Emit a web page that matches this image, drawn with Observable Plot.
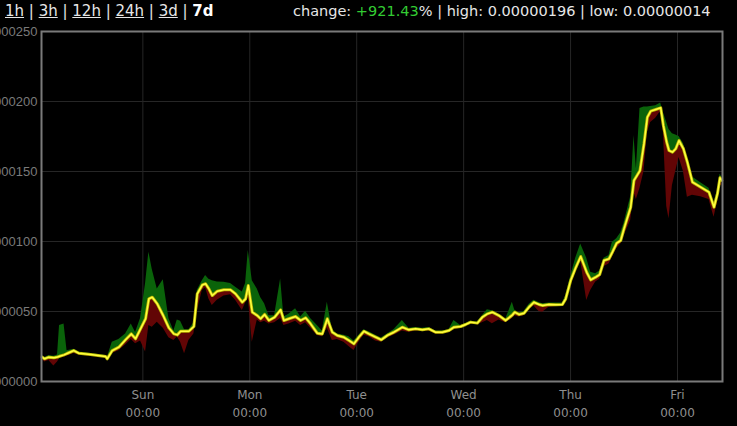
<!DOCTYPE html>
<html><head><meta charset="utf-8">
<script src="https://cdn.jsdelivr.net/npm/d3@7"></script>
<script src="https://cdn.jsdelivr.net/npm/@observablehq/plot@0.6"></script>
<style>
html,body{margin:0;padding:0;background:#000;width:737px;height:426px;overflow:hidden;}
#header{position:relative;height:24px;font-family:"DejaVu Sans",sans-serif;color:#e6e6e6;white-space:nowrap;}
#periods{position:absolute;left:5px;top:2px;font-size:15px;}
#periods a{color:#e6e6e6;text-decoration:underline;}
#periods b{color:#fff;}
#stats{position:absolute;left:293px;top:3px;font-size:14.5px;}
.up{color:#33cc33;}
#chart svg{display:block;}
</style></head><body>
<div id="header"><span id="periods"></span><span id="stats"></span></div>
<div id="chart"></div>
<script>
// time periods in header
const periods = ["1h", "3h", "12h", "24h", "3d", "7d"];
const selectedPeriod = "7d";
const changePct = "+921.43";
const highLabel = "0.00000196";
const lowLabel = "0.00000014";

// hours relative to Sunday 00:00 (UTC)
const hours = [-22.59,-22.07,-21.10,-19.98,-19.15,-18.70,-17.69,-17.02,-15.49,-14.37,-11.74,-8.37,-7.99,-6.87,-5.39,-3.88,-2.60,-1.64,-0.52,0.61,1.35,2.11,3.23,4.58,5.84,6.96,7.72,8.46,9.36,10.33,11.45,12.21,13.34,14.08,14.82,15.58,16.70,18.19,19.69,20.81,22.32,23.06,23.66,24.56,25.68,26.43,27.32,28.29,29.57,30.92,31.66,32.78,34.28,35.41,36.53,37.65,39.15,40.28,41.40,42.52,43.64,45.13,46.25,47.37,48.49,49.62,50.74,52.24,53.52,54.87,56.35,58.24,59.72,61.22,62.73,64.21,65.71,67.22,68.70,69.82,71.33,72.45,73.57,75.08,76.20,77.32,78.44,79.93,81.43,82.93,83.45,84.42,85.54,86.66,87.78,88.91,89.74,91.15,92.66,94.16,94.90,96.02,97.15,98.27,99.62,100.51,101.64,102.53,103.50,104.62,105.39,106.35,107.25,107.99,109.49,110.23,110.77,111.58,112.48,113.24,113.98,115.11,116.23,116.83,117.58,118.09,118.86,119.60,120.34,121.33,122.22,123.35,125.21,127.07,128.20,128.96,129.54,129.93];
// prices in units of 0.00000001
const close = [17.4,16.2,17.4,16.9,17.5,18,19,20,22.1,20.2,19.3,17.9,16.2,22.1,24.5,29.8,34,30.5,37.6,44.8,59.1,60.2,55.5,47,38.3,34,33.3,35.9,35.9,35.9,39.3,62.6,69,69.8,66.2,61.4,64.5,65.5,65.5,62.6,56.6,59,68.6,49.5,47.1,44.8,47.9,43.6,45.9,51.2,43.6,44.8,46.4,43.6,45.5,41.2,34.5,34,44.8,35.2,32.9,31.6,29.3,26.9,31.7,35.9,34,31.7,29.8,32.9,35.2,38.8,36.9,37.6,36.9,37.6,35.2,35.2,36.4,38.8,39.3,40.7,42.4,41.7,45.9,48.3,49.5,47.1,43.6,47.5,49.5,47.9,48.8,53.1,56.6,55,54.3,55,54.8,55,59,72.1,81.2,89.3,78,72.6,74.5,76.4,86.4,87.6,92.4,98.8,100.7,109,124.5,143.6,146.4,150.7,169.8,188.8,193.1,194.3,195.5,182.9,170.9,165,163.8,166.2,172.1,166.2,156.6,142.4,138.8,135.2,124.5,134,145.5,143.6];
const high = [18.5,17,18.5,18,19,40,41,22,23,21,20,18.5,17,28,30,34,41,35,45,70,92.4,80,66,72.6,45,36,44,43,37,37,42,65,72,75.7,73,72,71,70.9,70,67.4,64,70,93.6,72,66,60,55.5,47,47,73.3,46,48,51.9,46,50.2,45,40,36,56.6,37,34,33,32,29,33,37,35.5,33,31,34,37,43.6,38,38.5,38,38.5,36,36,37,43.6,40,41.5,43,42.5,47,51.2,50.5,48,44.5,56.6,51,49,50,55,58,56.5,55.5,56,56,56,61,75,88,98.3,88,78,77,79,88,90,99.5,102,106,113,132,175.7,152,195,196,196,196.5,197,199,192,185,180,177,176,175,170,160,146,142,138,128,136,148,146];
const low = [16,14,15,11,14,16.5,17.5,18,20,19,18,17,15.5,20,22,26,30,27,29,21,40,38.8,42.4,38,31.2,29.3,31.7,28,19.8,29.3,34,50,65,67,59,54.3,58,61,62,58,50.7,56,60,28,44,42,43,41,42,45,40,41,43,40,42,38,32.9,32,38,29.3,30,28,25,22.1,28,33,32,29,28,31,33,36,35,36,36,36,34,34,35,37,38,39.5,41,40.5,42,43.6,41.2,44,42,45,47,46,47,51,54,50,49.5,53,53.5,54,57,68,78,86,57.9,65,71,73,82,84,89,95,98,104,115,135,130,138,150,178,185,188,193,178,125,116.2,140,150,160,150,131.6,133,132,130,117.4,128,140,140];

// axis ticks
const yTicks = [0, 50, 100, 150, 200, 250];
const dayLabels = ["Sun", "Mon", "Tue", "Wed", "Thu", "Fri"];
const timeLabel = "00:00";
const domainHours = [-22.75, 130.1];

const base = Date.UTC(2021, 0, 3); // a Sunday
const toDate = h => new Date(base + h * 3600e3);
const data = hours.map((h, i) => ({t: toDate(h), close: close[i], high: high[i], low: low[i]}));
const days = dayLabels.map((d, i) => ({t: toDate(i * 24), label: d + "\n" + timeLabel}));

// header
const per = document.getElementById("periods");
per.innerHTML = periods.map(p => p === selectedPeriod ? `<b>${p}</b>` : `<a>${p}</a>`).join(" | ");
document.getElementById("stats").innerHTML =
  `change: <span class="up">${changePct}</span>% | high: ${highLabel} | low: ${lowLabel}`;

const chart = Plot.plot({
  width: 737,
  height: 402,
  marginTop: 7,
  marginBottom: 45,
  marginLeft: 41,
  marginRight: 15,
  style: {background: "#000", color: "#888", fontFamily: "Liberation Sans, sans-serif"},
  x: {type: "utc", domain: domainHours.map(toDate), axis: null},
  y: {domain: [0, 250], axis: null},
  marks: [
    Plot.ruleY(yTicks, {stroke: "#262626", strokeWidth: 1}),
    Plot.ruleX(days, {x: "t", stroke: "#262626", strokeWidth: 1}),
    Plot.areaY(data, {x: "t", y1: "close", y2: "high", fill: "#0a630a"}),
    Plot.areaY(data, {x: "t", y1: "low", y2: "close", fill: "#620505"}),
    Plot.lineY(data, {x: "t", y: "close", stroke: "#b8b400", strokeWidth: 3}),
    Plot.lineY(data, {x: "t", y: "close", stroke: "#ffff40", strokeWidth: 1.5}),
    Plot.frame({stroke: "#7a7a7a", strokeWidth: 2}),
    Plot.text(yTicks, {y: d => d, frameAnchor: "left", dx: -4, textAnchor: "end",
      text: d => (d * 1e-8).toFixed(8), fill: "#7a7a7a", fontSize: 13}),
    Plot.text(days, {x: "t", text: "label", frameAnchor: "bottom", dy: 5, lineAnchor: "top",
      lineHeight: 1.5, fill: "#8f8f8f", fontSize: 12, fontFamily: "DejaVu Sans, sans-serif"})
  ]
});
document.getElementById("chart").appendChild(chart);
</script>
</body></html>
